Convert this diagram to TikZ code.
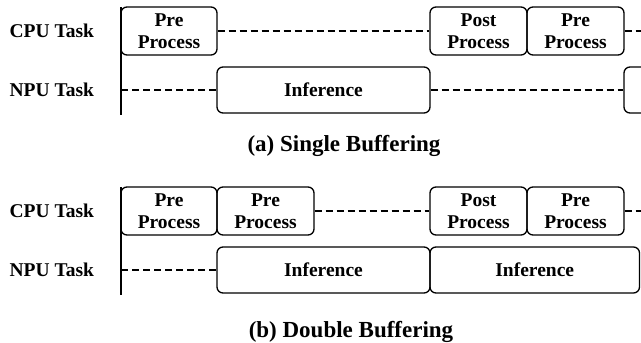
\documentclass[tikz,border=0pt]{standalone}
\usepackage{fontspec}
\setmainfont{Liberation Serif}

\begin{document}
\begin{tikzpicture}[x=1pt,y=-1pt,line width=1.3pt,
	task/.style={draw,rounded corners=6pt,inner sep=0pt,align=center,
		font=\fontsize{19.5}{22}\selectfont\bfseries},
	idle/.style={dash pattern=on 7pt off 4pt},
	rowlabel/.style={anchor=east,font=\fontsize{19.5}{22}\selectfont\bfseries},
	caption/.style={font=\fontsize{23}{26}\selectfont\bfseries}]
\clip (0,0) rectangle (641,343);
% #1 name, #2 left, #3 right, #4 top, #5 bottom, #6 text
\def\slot#1#2#3#4#5#6{
	\node[task,minimum width={#3-#2},minimum height={#5-#4}]
		(#1) at ({(#2+#3)/2},{(#4+#5)/2}) {#6};
}
\foreach \p/\dy in {a/0,b/180}{
	\coordinate (\p top) at (121,7+\dy);
	\coordinate (\p bot) at (121,115+\dy);
	\coordinate (\p npu) at (121,90+\dy);
	\coordinate (\p end) at (641,31+\dy);
	\draw (\p top) -- (\p bot);
	\node[rowlabel] (\p cpulabel) at (98,31+\dy) {CPU Task};
	\node[rowlabel] (\p npulabel) at (98,90+\dy) {NPU Task};
}

% (a) single buffering
\slot{apre1}{121}{217}{7}{55}{Pre\\Process}
\slot{apost}{430}{527}{7}{55}{Post\\Process}
\slot{apre2}{527}{624}{7}{55}{Pre\\Process}
\slot{ainf1}{217}{430}{67}{113}{Inference}
\slot{ainf2}{624}{837}{67}{113}{} % runs off the right edge
\draw[idle] (apre1) -- (apost);
\draw[idle] (apre2) -- (aend);
\draw[idle] (anpu) -- (ainf1);
\draw[idle] (ainf1) -- (ainf2);
\node[caption] (acap) at (344,146) {(a) Single Buffering};

% (b) double buffering
\slot{bpre1}{121}{217}{187}{235}{Pre\\Process}
\slot{bpre2}{217}{314}{187}{235}{Pre\\Process}
\slot{bpost}{430}{527}{187}{235}{Post\\Process}
\slot{bpre3}{527}{624}{187}{235}{Pre\\Process}
\slot{binf1}{217}{430}{247}{293}{Inference}
\slot{binf2}{430}{639.5}{247}{293}{Inference}
\draw[idle] (bpre2) -- (bpost);
\draw[idle] (bpre3) -- (bend);
\draw[idle] (bnpu) -- (binf1);
\node[caption] (bcap) at (351,332) {(b) Double Buffering};
\end{tikzpicture}
\end{document}
